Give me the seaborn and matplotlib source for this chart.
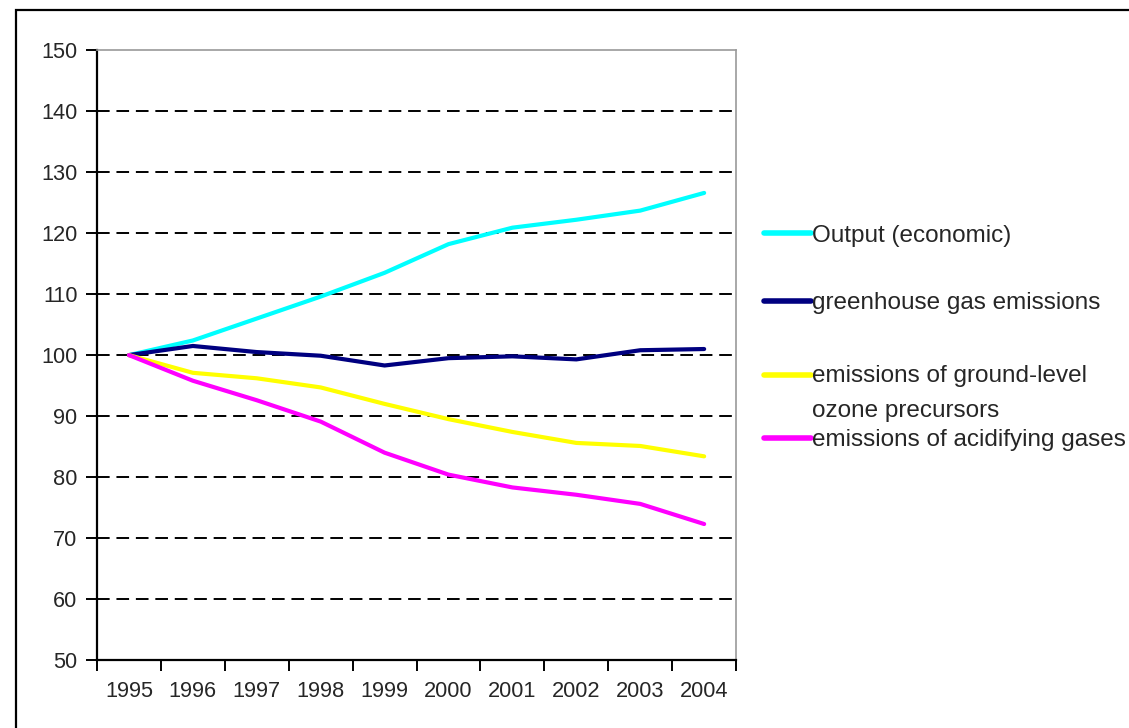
import numpy as np
import pandas as pd
import seaborn as sns
import matplotlib.pyplot as plt
from matplotlib.patches import Rectangle
from matplotlib.ticker import MultipleLocator
from matplotlib.legend_handler import HandlerLine2D

# index values (1995 = 100)
years = [1995, 1996, 1997, 1998, 1999, 2000, 2001, 2002, 2003, 2004]
output_econ = [100, 102.4, 106.0, 109.6, 113.5, 118.2, 120.9, 122.2, 123.7, 126.6]
greenhouse = [100, 101.5, 100.5, 99.9, 98.3, 99.5, 99.8, 99.3, 100.8, 101.0]
ozone = [100, 97.1, 96.2, 94.7, 92.0, 89.5, 87.4, 85.6, 85.1, 83.4]
acidifying = [100, 95.8, 92.6, 89.1, 84.0, 80.4, 78.3, 77.1, 75.6, 72.3]

labels = ["Output (economic)", "greenhouse gas emissions",
          "emissions of ground-level\nozone precursors",
          "emissions of acidifying gases"]
colors = ["#00FFFF", "#000080", "#FFFF00", "#FF00FF"]

df = pd.DataFrame({"year": years * 4,
                   "value": output_econ + greenhouse + ozone + acidifying,
                   "series": [l for l in labels for _ in years]})

sns.set_theme(style="white")
plt.rcParams['font.family'] = ['Liberation Sans', 'DejaVu Sans']
tick_fs, leg_fs = 15.7, 17.5

fig = plt.figure(figsize=(11.29, 7.28), dpi=100)
ax = fig.add_axes([0.0859, 0.0934, 0.652 - 0.0859, 0.931 - 0.0934])

sns.lineplot(data=df, x="year", y="value", hue="series", hue_order=labels,
             palette=dict(zip(labels, colors)), linewidth=3, ax=ax)

ax.set_xlim(1994.5, 2004.5)
ax.set_ylim(50, 150)
ax.yaxis.set_major_locator(MultipleLocator(10))
ax.set_xticks(years)
ax.set_xticklabels([str(y) for y in years])
ax.set_xticks([y - 0.5 for y in years] + [2004.5], minor=True)
ax.tick_params(axis="x", which="major", length=0, pad=15, labelsize=tick_fs)
ax.tick_params(axis="x", which="minor", length=8, width=1.4, color="black",
               direction="out", bottom=True)
ax.tick_params(axis="y", length=8, width=1.4, color="black", direction="out",
               left=True, labelsize=tick_fs, pad=6)
ax.set_xlabel("")
ax.set_ylabel("")

for v in range(60, 150, 10):
    ax.axhline(v, color="black", lw=1.4, ls=(0, (6.5, 3.5)), zorder=0)

for side in ["left", "bottom"]:
    ax.spines[side].set_color("black")
    ax.spines[side].set_linewidth(1.6)
for side in ["top", "right"]:
    ax.spines[side].set_color("#999999")
    ax.spines[side].set_linewidth(1.2)

handles, _ = ax.get_legend_handles_labels()
for h in handles:
    h.set_linewidth(4)
ax.get_legend().remove()


class FirstLineHandler(HandlerLine2D):
    # keep the legend line level with the first line of a two-line label
    def __init__(self, shift, **kw):
        super().__init__(**kw)
        self.shift = shift

    def create_artists(self, legend, orig_handle, xdescent, ydescent, width,
                       height, fontsize, trans):
        arts = super().create_artists(legend, orig_handle, xdescent, ydescent,
                                      width, height, fontsize, trans)
        for a in arts:
            a.set_ydata(np.asarray(a.get_ydata()) + self.shift)
        return arts


# Excel-style legend: one entry per row, handle beside the first text line
row_y = [236, 303, 375, 440]
line_sep = 37  # px between the two lines of the ozone label
for h, lab, y in zip(handles, labels, row_y):
    hm = None
    if "\n" in lab:
        y = y + line_sep / 2
        hm = {h: FirstLineHandler(shift=line_sep / 2 * 0.72)}
    leg = fig.legend([h], [lab], loc="center left",
                     bbox_to_anchor=(764 / 1129, 1 - y / 728),
                     frameon=False, fontsize=leg_fs, handlelength=34 / leg_fs,
                     handletextpad=0.05, borderpad=0, borderaxespad=0,
                     handler_map=hm)
    if "\n" in lab:
        leg.texts[0].set_linespacing(1.78)

# outer chart border
fig.patches.append(Rectangle((16 / 1129, -0.1), 1.2, 1.086, transform=fig.transFigure,
                             fill=False, edgecolor="black", lw=1.6))

plt.savefig("out.png", dpi=100)
